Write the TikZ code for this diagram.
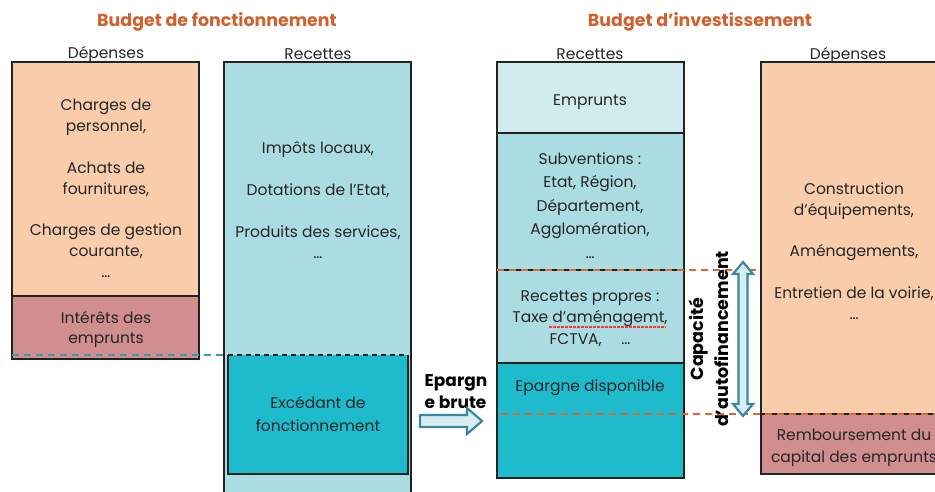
\documentclass[tikz,border=0pt]{standalone}
\usepackage{fontspec}
\setmainfont{Poppins}
\usepackage{xcolor}
\usepackage{tikz}
\usetikzlibrary{calc}
\usetikzlibrary{positioning}
\definecolor{peche}{HTML}{F9CDAC}
\definecolor{rose}{HTML}{D08E8E}
\definecolor{bleu}{HTML}{ABDCE2}
\definecolor{bleuclair}{HTML}{D2EBEF}
\definecolor{turquoise}{HTML}{1EBBCD}
\definecolor{titreorange}{HTML}{D0612E}
\definecolor{traitorange}{HTML}{D8683A}
\definecolor{traitbleu}{HTML}{3C9BAB}
\definecolor{flechebord}{HTML}{3A8A9A}
\definecolor{flechefond}{HTML}{D6EEF2}
\definecolor{bord}{HTML}{222222}
\tikzset{
	box/.style={draw=bord, line width=1.6pt},
	txt/.style={align=center, inner sep=0pt, text=black!85, font=\fontsize{15.5}{20.9}\selectfont},
	entete/.style={inner sep=0pt, text=black!85, font=\fontsize{15.5}{18}\selectfont},
	titre/.style={inner sep=0pt, text=titreorange, font=\bfseries\fontsize{17.4}{20}\selectfont},
	gras/.style={align=center, inner sep=0pt, font=\bfseries\fontsize{17}{22}\selectfont},
	orangedash/.style={draw=traitorange, line width=1.5pt, dash pattern=on 7pt off 5pt},
	bleudash/.style={draw=traitbleu, line width=1.5pt, dash pattern=on 7pt off 5pt},
	fleche/.style={fill=flechefond, draw=flechebord, line width=2.2pt, line join=miter},
}

\begin{document}
\begin{tikzpicture}[x=1pt, y=-1pt]
	\useasboundingbox (0,0) rectangle (935,492);
	% titres
	\node[titre] (titreF) at (217,22) {Budget de fonctionnement};
	\node[titre] (titreI) at (700,22) {Budget d'investissement};
	% budget de fonctionnement
	\filldraw[fill=peche, box] (12,62) rectangle (199,296);
	\filldraw[fill=rose, box] (12,296) rectangle (199,359);
	\filldraw[fill=bleu, box] (224,62) rectangle (411,520);
	\fill[turquoise] (228,355) rectangle (408,474);
	\draw[box] (228,355) -- (228,474) -- (408,474) -- (408,355);
	\draw[draw=bord, line width=1.5pt, dash pattern=on 5pt off 4pt] (228,355) -- (408,355);
	\draw[bleudash] (12,355) -- (228,355);
	\node[entete] (depF) at (106,54) {Dépenses};
	\node[entete] (recF) at (318,54) {Recettes};
	\node[txt] (charges) at (106,188.5) {Charges de\\personnel,\\[20.9pt]Achats de\\fournitures,\\[20.9pt]Charges de gestion\\courante,\\\dots};
	\node[txt] (interets) at (106,329.5) {Intérêts des\\emprunts};
	\node[txt] (impots) at (318,200) {Impôts locaux,\\[20.9pt]Dotations de l'Etat,\\[20.9pt]Produits des services,\\\dots};
	\node[txt, font=\fontsize{15.5}{23.5}\selectfont] (excedant) at (318,414) {Excédant de\\fonctionnement};
	% epargne brute
	\node[gras, align=left] (brute) at (456,392) {Epargn\\e brute};
	\filldraw[fleche] (420,415) -- (467,415) -- (467,408) -- (482,421) -- (467,434) -- (467,427) -- (420,427) -- cycle;
	% budget d'investissement, recettes
	\filldraw[fill=bleuclair, box] (497,62) rectangle (684,133);
	\filldraw[fill=bleu, box] (497,133) rectangle (684,270);
	\filldraw[fill=bleu, box] (497,270) rectangle (684,363);
	\filldraw[fill=turquoise, box] (497,363) rectangle (684,478);
	\node[entete] (recI) at (590,54) {Recettes};
	\node[txt] (emprunts) at (590,102) {Emprunts};
	\node[txt, font=\fontsize{15.5}{23.6}\selectfont] (subv) at (590,205.5) {Subventions :\\Etat, Région,\\Département,\\Agglomération,\\\dots};
	\node[txt, font=\fontsize{15.5}{21.5}\selectfont] (propres) at (590,318.5) {Recettes propres :\\Taxe d'aménagemt,\\FCTVA,\quad\ \dots};
	\draw[red!80, line width=2pt, dash pattern=on 2.5pt off 1.5pt] (549,327) -- (666,327);
	\node[txt] (dispo) at (590,388) {Epargne disponible};
	% budget d'investissement, depenses
	\filldraw[fill=peche, box] (761,62) rectangle (980,414);
	\filldraw[fill=rose, box] (761,414) rectangle (980,474);
	\node[entete] (depI) at (848,55) {Dépenses};
	\node[txt] (constr) at (854,251) {Construction\\d'équipements,\\[20.9pt]Aménagements,\\[20.9pt]Entretien de la voirie,\\\dots};
	\node[txt, font=\fontsize{15.5}{22}\selectfont] (rembt) at (854,448) {Remboursement du\\capital des emprunts};
	% capacite d'autofinancement
	\draw[orangedash] (497,270) -- (757,270);
	\draw[orangedash] (501,414) -- (935,414);
	\filldraw[fleche] (743,262) -- (753,274) -- (747.5,274) -- (747.5,404) -- (753,404) -- (743,416) -- (733,404) -- (738.5,404) -- (738.5,274) -- (733,274) -- cycle;
	\node[gras, rotate=90, font=\bfseries\fontsize{17.5}{25}\selectfont] (caf) at (709,339) {Capacité\\d'autofinancement};
\end{tikzpicture}
\end{document}
